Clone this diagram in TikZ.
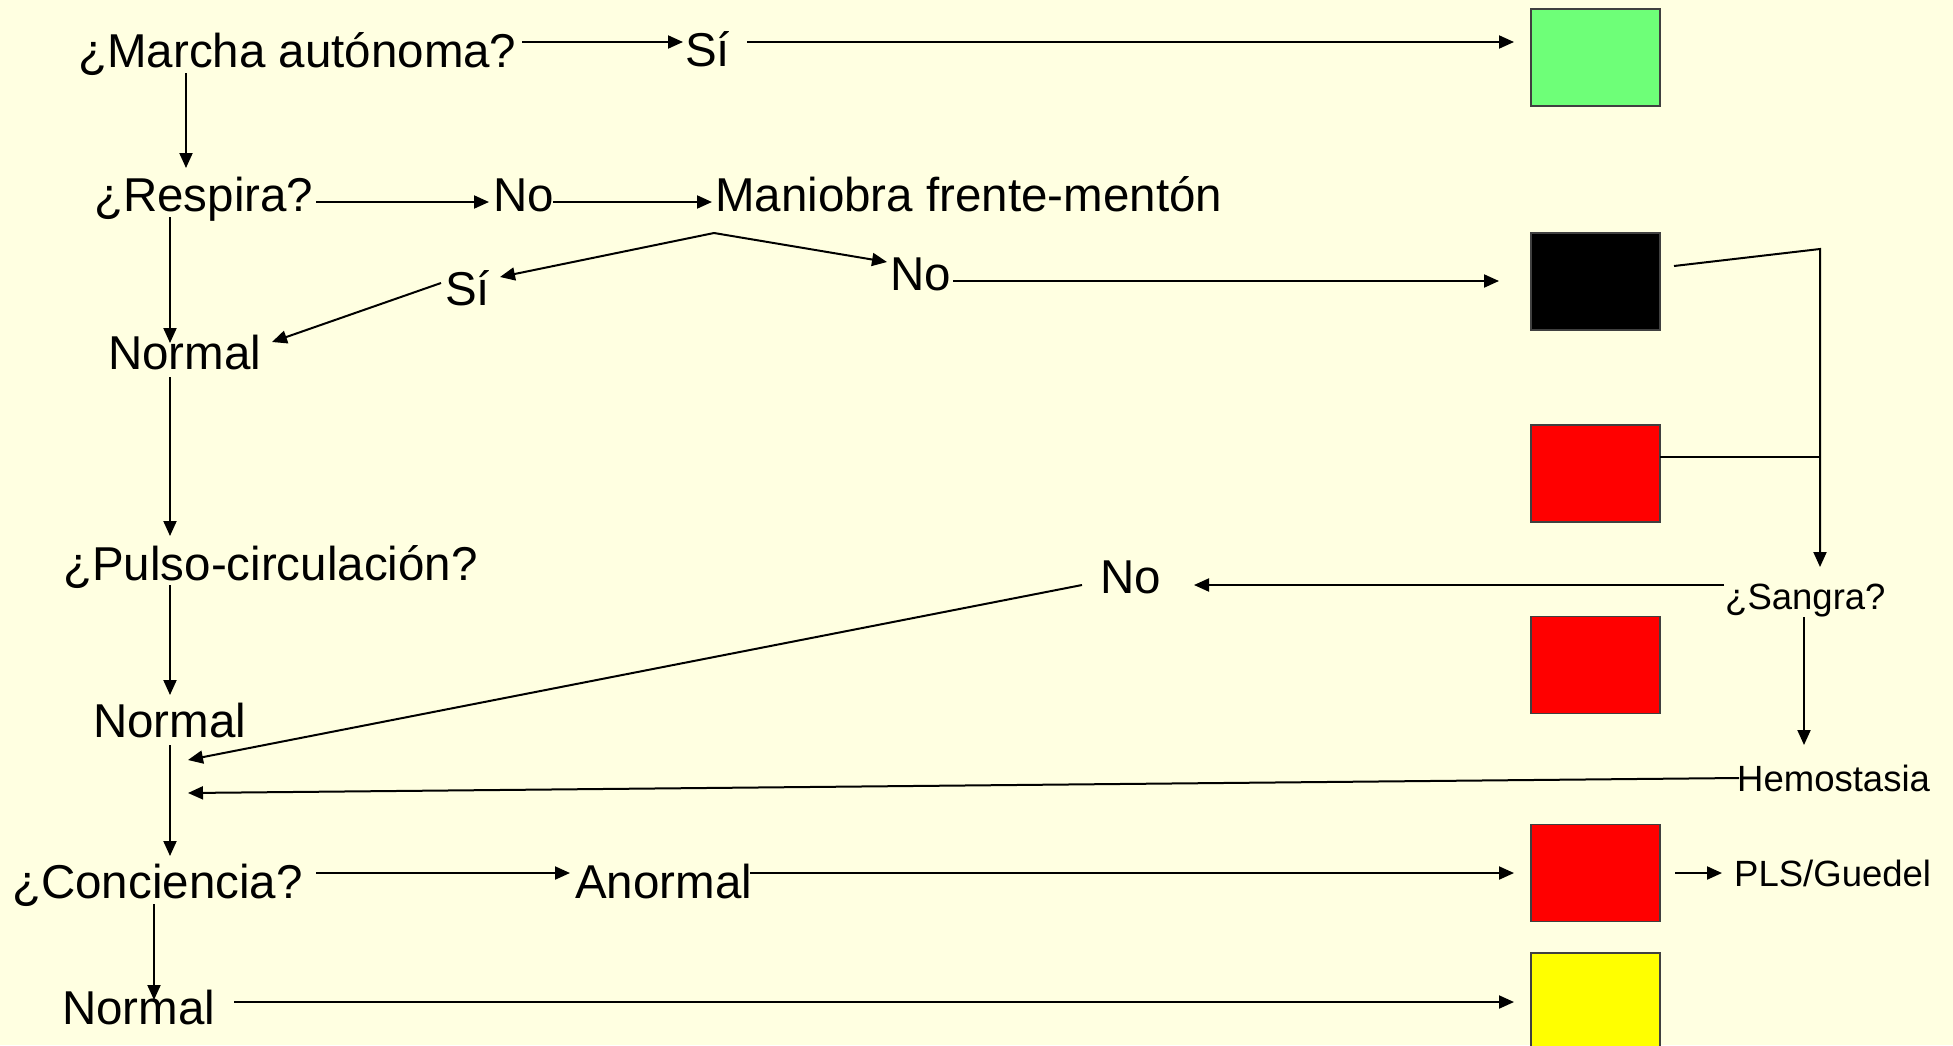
\documentclass[tikz,border=0pt]{standalone}
\usepackage{fontspec}
\setmainfont{Liberation Sans}
\usetikzlibrary{arrows.meta}
\definecolor{bg}{RGB}{255,255,225}
\definecolor{boxgreen}{RGB}{110,255,120}
\definecolor{boxred}{RGB}{255,0,0}
\definecolor{boxyellow}{RGB}{255,255,0}
\tikzset{
  big/.style={font=\fontsize{47.5}{57}\selectfont, inner sep=0pt, anchor=base west},
  small/.style={font=\fontsize{36.5}{44}\selectfont, inner sep=0pt, anchor=base west},
  conn/.style={line width=2pt, -{Triangle[length=15pt,width=13pt]}},
  plainline/.style={line width=2pt},
  tribox/.style={draw=black!75, line width=1.5pt, minimum width=129pt, minimum height=97pt, inner sep=0pt},
}
\begin{document}
\begin{tikzpicture}[x=1pt,y=-1pt]
\fill[bg] (0,0) rectangle (1953,1045);
\useasboundingbox (0,0) rectangle (1953,1045);
\clip (0,0) rectangle (1953,1045);

% boxes
\node[tribox, fill=boxgreen] (green) at (1595.5,57.5) {};
\node[tribox, fill=black] (black) at (1595.5,281.5) {};
\node[tribox, fill=boxred] (red1) at (1595.5,473.5) {};
\node[tribox, fill=boxred] (red2) at (1595.5,665) {};
\node[tribox, fill=boxred] (red3) at (1595.5,873) {};
\node[tribox, fill=boxyellow] (yellow) at (1595.5,1001.5) {};

% texts
\node[big] (marcha) at (78,67) {¿Marcha autónoma?};
\node[big] (si1) at (685,66) {Sí};
\node[big] (respira) at (94,211) {¿Respira?};
\node[big] (no1) at (493,211) {No};
\node[big] (maniobra) at (715,211) {Maniobra frente-mentón};
\node[big] (si2) at (445,305) {Sí};
\node[big] (no2) at (890,290) {No};
\node[big] (normal1) at (108,369) {Normal};
\node[big] (pulso) at (63,580) {¿Pulso-circulación?};
\node[big] (no3) at (1100,593) {No};
\node[small] (sangra) at (1725,609) {¿Sangra?};
\node[big] (normal2) at (93,737) {Normal};
\node[small] (hemo) at (1737,791) {Hemostasia};
\node[small] (pls) at (1734,886) {PLS/Guedel};
\node[big] (conciencia) at (12,898) {¿Conciencia?};
\node[big] (anormal) at (575,898) {Anormal};
\node[big] (normal3) at (62,1024) {Normal};

% connector points
\coordinate (p1a) at (522,42);   \coordinate (p1b) at (683,42);
\coordinate (p2a) at (747,42);   \coordinate (p2b) at (1514,42);
\coordinate (p3a) at (186,73);   \coordinate (p3b) at (186,168);
\coordinate (p4a) at (316,202);  \coordinate (p4b) at (489,202);
\coordinate (p5a) at (553,202);  \coordinate (p5b) at (712,202);
\coordinate (apex) at (714,233);
\coordinate (si2tip) at (500,277);
\coordinate (no2tip) at (887,262);
\coordinate (p6a) at (441,283);  \coordinate (p6b) at (272,342);
\coordinate (p7a) at (170,217);  \coordinate (p7b) at (170,343);
\coordinate (p8a) at (953,281);  \coordinate (p8b) at (1499,281);
\coordinate (p9a) at (170,377);  \coordinate (p9b) at (170,536);
\coordinate (p10a) at (170,585); \coordinate (p10b) at (170,695);
\coordinate (p11a) at (170,745); \coordinate (p11b) at (170,856);
\coordinate (p12a) at (1674,266); \coordinate (corner) at (1820,249); \coordinate (p12b) at (1820,567);
\coordinate (p13a) at (1660,457); \coordinate (p13b) at (1820,457);
\coordinate (p14a) at (1724,585); \coordinate (p14b) at (1194,585);
\coordinate (p15a) at (1082,585); \coordinate (p15b) at (188,760);
\coordinate (p16a) at (1804,617); \coordinate (p16b) at (1804,745);
\coordinate (p17a) at (1739,778); \coordinate (p17b) at (188,793);
\coordinate (p18a) at (316,873);  \coordinate (p18b) at (570,873);
\coordinate (p19a) at (750,873);  \coordinate (p19b) at (1514,873);
\coordinate (p20a) at (1675,873); \coordinate (p20b) at (1722,873);
\coordinate (p21a) at (154,904);  \coordinate (p21b) at (154,1000);
\coordinate (p22a) at (234,1002); \coordinate (p22b) at (1514,1002);

% connectors
\draw[conn] (p1a) -- (p1b);
\draw[conn] (p2a) -- (p2b);
\draw[conn] (p3a) -- (p3b);
\draw[conn] (p4a) -- (p4b);
\draw[conn] (p5a) -- (p5b);
\draw[conn] (apex) -- (si2tip);
\draw[conn] (apex) -- (no2tip);
\draw[conn] (p6a) -- (p6b);
\draw[conn] (p7a) -- (p7b);
\draw[conn] (p8a) -- (p8b);
\draw[conn] (p9a) -- (p9b);
\draw[conn] (p10a) -- (p10b);
\draw[conn] (p11a) -- (p11b);
\draw[conn] (p12a) -- (corner) -- (p12b);
\draw[plainline] (p13a) -- (p13b);
\draw[conn] (p14a) -- (p14b);
\draw[conn] (p15a) -- (p15b);
\draw[conn] (p16a) -- (p16b);
\draw[conn] (p17a) -- (p17b);
\draw[conn] (p18a) -- (p18b);
\draw[conn] (p19a) -- (p19b);
\draw[conn] (p20a) -- (p20b);
\draw[conn] (p21a) -- (p21b);
\draw[conn] (p22a) -- (p22b);
\end{tikzpicture}
\end{document}
